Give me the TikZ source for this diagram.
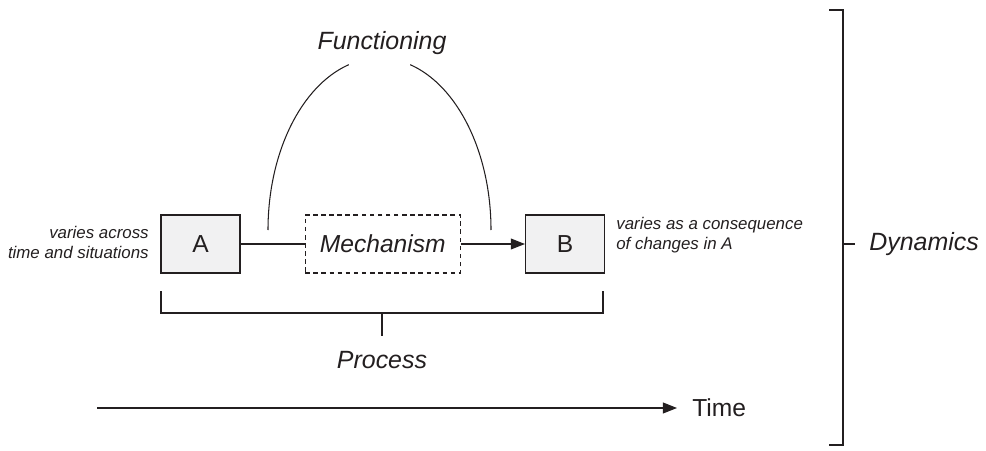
\documentclass[tikz,border=0pt]{standalone}
\usepackage{fontspec}
\setmainfont{Liberation Sans}
\usepackage{xcolor}
\usepackage{tikz}
\usetikzlibrary{arrows.meta,positioning}
\definecolor{ink}{HTML}{231F20}
\definecolor{boxgray}{HTML}{F1F1F2}
\tikzset{
  blk/.style={draw=ink, line width=.75pt, fill=boxgray, minimum width=1.58cm, minimum height=1.16cm, inner sep=0pt, font=\fontsize{14}{16}\selectfont, text=ink},
  mech/.style={blk, fill=white, dash pattern=on 2.6pt off 2pt, minimum width=3.1cm},
  ttl/.style={font=\fontsize{14.2}{16}\selectfont\itshape, text=ink, inner sep=0pt},
  lbl/.style={font=\fontsize{9.6}{11.4}\selectfont\itshape, text=ink, inner sep=0pt},
  ln/.style={line width=.6pt, draw=ink},
  ar/.style={ln, -{Triangle[length=8pt, width=6.2pt]}},
}

\begin{document}
\begin{tikzpicture}[x=0.02cm, y=0.02cm]
        \useasboundingbox (0,0) rectangle (986,450);
        % the chain
        \node[blk] (a) at (200.5,206) {A};
        \node[mech, right=1.28cm of a] (m) {\itshape Mechanism};
        \node[blk, right=1.28cm of m] (b) {B};
        \draw[ln] (a.east) -- (m.west);
        \draw[ar] (m.east) -- (b.west);
        % side notes
        \node[lbl, align=right, anchor=east] (na) at (149,208) {varies across\\time and situations};
        \node[lbl, align=left, anchor=west] (nb) at (616,215) {varies as a consequence\\of changes in A};
        % functioning arc
        \node[ttl] (fun) at (382,407) {Functioning};
        \coordinate (fl) at (268,220);
        \coordinate (fr) at (491,220);
        \draw[ln] (fl) arc[start angle=180, end angle=106, x radius=2.23cm, y radius=3.44cm];
        \draw[ln] (fr) arc[start angle=0, end angle=74, x radius=2.23cm, y radius=3.44cm];
        % process bracket
        \draw[ln] (161,159) |- (603,137) -- (603,159);
        \coordinate (pt) at (382,137);
        \node[ttl] (proc) at (382,90) {Process};
        \draw[ln] (pt) -- (382,114);
        % time axis
        \coordinate (t0) at (97,42);
        \node[font=\fontsize{14}{16}\selectfont, text=ink, inner sep=0pt, anchor=west] (time) at (692,42) {Time};
        \draw[ar] (t0) -- ([xshift=-0.3cm]time.west);
        % dynamics bracket
        \draw[ln] (829,440) -| (843,5) -- (829,5);
        \coordinate (dt) at (843,206);
        \node[ttl, anchor=west] (dyn) at (869,206) {Dynamics};
        \draw[ln] (dt) -- ([xshift=-0.28cm]dyn.west);
      \end{tikzpicture}
\end{document}
